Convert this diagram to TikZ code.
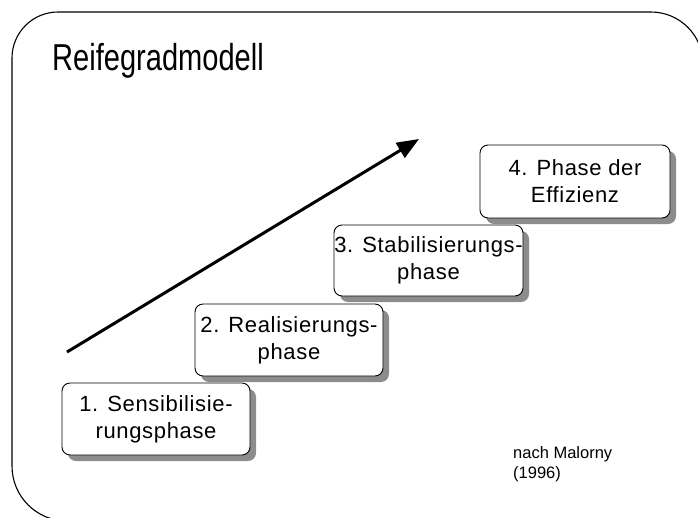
\documentclass[tikz,border=0pt]{standalone}
\usepackage{fontspec}
\setmainfont{Liberation Sans}
\usetikzlibrary{arrows.meta,shadows}
\begin{document}
\begin{tikzpicture}[x=1pt,y=-1pt,
  stepbox/.style={draw=black, line width=0.9pt, fill=white, rounded corners=8pt,
    minimum width=188pt, minimum height=72pt, inner sep=0pt, align=center,
    font=\fontsize{22}{27}\selectfont\addfontfeature{LetterSpace=3},
    drop shadow={shadow xshift=6pt, shadow yshift=-6pt, fill=black!45, opacity=1}},
  frame/.style={draw=black, line width=1.1pt},
  growarrow/.style={line width=3pt, -{Triangle[length=22pt,width=17pt]}}
]
\useasboundingbox (0,0) rectangle (698,517);
\draw[frame] (720,521) -- (67,521) .. controls (36.6,521) and (12,496.4) .. (12,466)
  -- (12,58) .. controls (12,32.6) and (32.6,12) .. (58,12)
  -- (651,12) .. controls (679.7,12) and (703,35.3) .. (703,64) -- (703,540);
\node[anchor=base west, inner sep=0pt, font=\fontsize{37.5}{45}\selectfont] (title) at (52,70) {\scalebox{0.775}[1]{Reifegradmodell}};
\coordinate (as) at (67,352);
\coordinate (ae) at (419,139);
\draw[growarrow] (as) -- (ae);
\node[stepbox] (b1) at (156,419) {1. Sensibilisie-\\rungsphase};
\node[stepbox] (b2) at (289,340) {2. Realisierungs-\\phase};
\node[stepbox, minimum width=189pt, minimum height=71pt] (b3) at (428.5,260.5) {3. Stabilisierungs-\\phase};
\node[stepbox, minimum width=190pt, minimum height=73pt] (b4) at (575,181.5) {4. Phase der\\Effizienz};
\node[anchor=north west, inner sep=0pt, align=left, font=\fontsize{16.5}{20}\selectfont] (src) at (513,446) {nach Malorny\\(1996)};
\end{tikzpicture}
\end{document}
